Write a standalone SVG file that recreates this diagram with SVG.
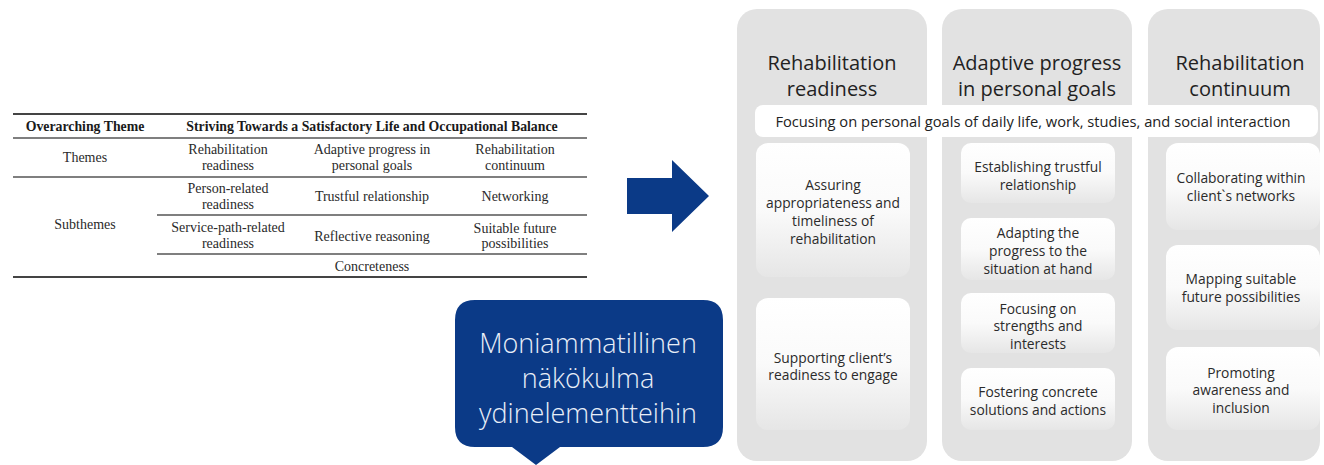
<svg xmlns="http://www.w3.org/2000/svg" width="1324" height="465" viewBox="0 0 1324 465">
<defs>
<linearGradient id="boxg" x1="0" y1="0" x2="0" y2="1">
<stop offset="0" stop-color="#ffffff"/>
<stop offset="0.5" stop-color="#fafafa"/>
<stop offset="1" stop-color="#e6e6e6"/>
</linearGradient>
<style>
.tb{font-family:"Liberation Serif",serif;font-size:14px;fill:#2a2a2a;text-anchor:middle;dominant-baseline:central}
.tbh{font-family:"Liberation Serif",serif;font-size:13.8px;font-weight:bold;fill:#1a1a1a;text-anchor:middle;dominant-baseline:central}
.rule{stroke:#555;stroke-width:1.5}
.rule2{stroke:#444;stroke-width:2}
.col{fill:#e2e2e2}
.ttl{font-family:"Open Sans","Liberation Sans",sans-serif;font-size:20px;fill:#222;text-anchor:middle;dominant-baseline:central}
.box{fill:url(#boxg)}
.bt{font-family:"Open Sans","Liberation Sans",sans-serif;font-size:13.8px;fill:#2b2b2b;text-anchor:middle;dominant-baseline:central}
.ban{font-family:"Open Sans","Liberation Sans",sans-serif;font-size:14.7px;fill:#222;text-anchor:middle;dominant-baseline:central}
.blue{fill:#0b3a87}
.ct{font-family:"Open Sans","Liberation Sans",sans-serif;font-size:27px;font-weight:300;fill:#e8eef8;text-anchor:middle;dominant-baseline:central}
</style>
</defs>
<rect width="1324" height="465" fill="#ffffff"/>

<g id="table">
<line class="rule2" x1="13" y1="114" x2="587" y2="114"/>
<line class="rule" x1="13" y1="138" x2="587" y2="138"/>
<line class="rule" x1="13" y1="177" x2="587" y2="177"/>
<line class="rule" x1="157" y1="215" x2="587" y2="215"/>
<line class="rule" x1="157" y1="254" x2="587" y2="254"/>
<line class="rule2" x1="13" y1="277" x2="587" y2="277"/>
<text class="tbh" x="85" y="126">Overarching Theme</text>
<text class="tbh" x="372" y="126">Striving Towards a Satisfactory Life and Occupational Balance</text>
<text class="tb" x="85" y="157">Themes</text>
<text class="tb" x="228" y="149">Rehabilitation</text>
<text class="tb" x="228" y="165">readiness</text>
<text class="tb" x="372" y="149">Adaptive progress in</text>
<text class="tb" x="372" y="165">personal goals</text>
<text class="tb" x="515" y="149">Rehabilitation</text>
<text class="tb" x="515" y="165">continuum</text>
<text class="tb" x="85" y="224">Subthemes</text>
<text class="tb" x="228" y="188">Person-related</text>
<text class="tb" x="228" y="204">readiness</text>
<text class="tb" x="372" y="196">Trustful relationship</text>
<text class="tb" x="515" y="196">Networking</text>
<text class="tb" x="228" y="227">Service-path-related</text>
<text class="tb" x="228" y="243">readiness</text>
<text class="tb" x="372" y="236">Reflective reasoning</text>
<text class="tb" x="515" y="228">Suitable future</text>
<text class="tb" x="515" y="243">possibilities</text>
<text class="tb" x="372" y="266">Concreteness</text>
</g>

<g id="arrow">
<path class="blue" d="M627,178 H672 V160 L709,196 L672,232 V214 H627 Z"/>
</g>

<g id="callout">
<path class="blue" d="M475,300 H703 Q723,300 723,320 V427 Q723,447 703,447 H560 L536,465 L512,447 H475 Q455,447 455,427 V320 Q455,300 475,300 Z"/>
<text class="ct" x="588" y="342">Moniammatillinen</text>
<text class="ct" x="588" y="377">näkökulma</text>
<text class="ct" x="588" y="412">ydinelementteihin</text>
</g>

<g id="col1">
<rect class="col" x="737" y="9" width="190" height="452" rx="20"/>
<text class="ttl" x="832" y="62">Rehabilitation</text>
<text class="ttl" x="832" y="88">readiness</text>
</g>
<g id="col2">
<rect class="col" x="942" y="9" width="190" height="452" rx="20"/>
<text class="ttl" x="1037" y="62">Adaptive progress</text>
<text class="ttl" x="1037" y="88">in personal goals</text>
</g>
<g id="col3">
<rect class="col" x="1148" y="9" width="172" height="452" rx="20"/>
<text class="ttl" x="1240" y="62">Rehabilitation</text>
<text class="ttl" x="1240" y="88">continuum</text>
</g>

<g id="banner">
<rect x="755" y="105" width="563" height="32" rx="8" fill="#ffffff"/>
<text class="ban" x="1033" y="121">Focusing on personal goals of daily life, work, studies, and social interaction</text>
</g>

<g id="c1b1">
<rect class="box" x="756" y="143" width="154" height="134" rx="12"/>
<text class="bt" x="833" y="184">Assuring</text>
<text class="bt" x="833" y="202">appropriateness and</text>
<text class="bt" x="833" y="220">timeliness of</text>
<text class="bt" x="833" y="238">rehabilitation</text>
</g>
<g id="c1b2">
<rect class="box" x="756" y="298" width="154" height="132" rx="12"/>
<text class="bt" x="833" y="357">Supporting client’s</text>
<text class="bt" x="833" y="374">readiness to engage</text>
</g>

<g id="c2b1">
<rect class="box" x="961" y="143" width="154" height="60" rx="10"/>
<text class="bt" x="1038" y="166">Establishing trustful</text>
<text class="bt" x="1038" y="184">relationship</text>
</g>
<g id="c2b2">
<rect class="box" x="961" y="218" width="154" height="62" rx="10"/>
<text class="bt" x="1038" y="232">Adapting the</text>
<text class="bt" x="1038" y="250">progress to the</text>
<text class="bt" x="1038" y="268">situation at hand</text>
</g>
<g id="c2b3">
<rect class="box" x="961" y="293" width="154" height="60" rx="10"/>
<text class="bt" x="1038" y="308">Focusing on</text>
<text class="bt" x="1038" y="325">strengths and</text>
<text class="bt" x="1038" y="343">interests</text>
</g>
<g id="c2b4">
<rect class="box" x="961" y="368" width="154" height="62" rx="10"/>
<text class="bt" x="1038" y="391">Fostering concrete</text>
<text class="bt" x="1038" y="409">solutions and actions</text>
</g>

<g id="c3b1">
<rect class="box" x="1166" y="143" width="154" height="87" rx="12"/>
<text class="bt" x="1241" y="177">Collaborating within</text>
<text class="bt" x="1241" y="195">client`s networks</text>
</g>
<g id="c3b2">
<rect class="box" x="1166" y="245" width="154" height="85" rx="12"/>
<text class="bt" x="1241" y="278">Mapping suitable</text>
<text class="bt" x="1241" y="296">future possibilities</text>
</g>
<g id="c3b3">
<rect class="box" x="1166" y="347" width="154" height="83" rx="12"/>
<text class="bt" x="1241" y="372">Promoting</text>
<text class="bt" x="1241" y="389">awareness and</text>
<text class="bt" x="1241" y="407">inclusion</text>
</g>
</svg>
